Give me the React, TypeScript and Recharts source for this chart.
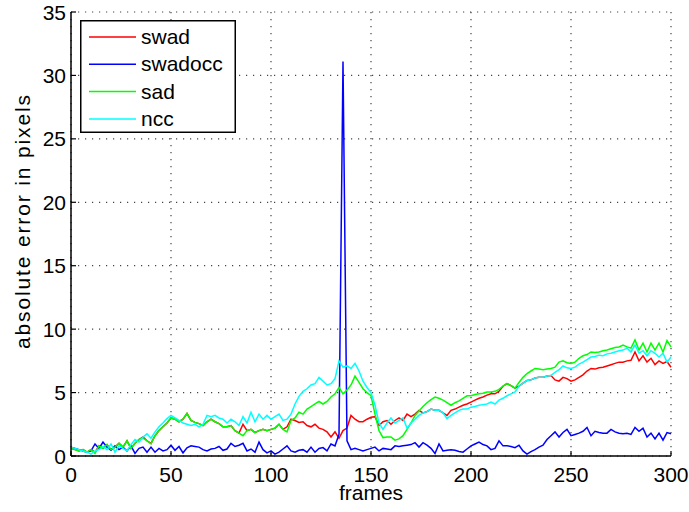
import React from 'react';
import { LineChart, Line, XAxis, YAxis, CartesianGrid, Legend } from 'recharts';

// frame index, sampled every 2 frames
const frames: number[] = Array.from({ length: 151 }, (_, i) => i * 2);

const swad = [
  0.6, 0.5, 0.4, 0.5, 0.3, 0.5, 0.3, 0.8, 0.6, 0.9, 0.5, 0.7, 1.0, 0.7, 1.2, 0.6, 1.0, 1.3, 1.5, 1.2, 1.0, 1.6, 2.0, 2.3, 2.6, 3.0,
  2.9, 2.7, 2.9, 3.35, 2.8, 2.65, 2.55, 2.4, 2.7, 2.9, 2.7, 2.55, 2.3, 2.3, 2.4, 2.0, 1.8, 2.5, 2.0, 2.1, 1.85, 2.0, 2.1, 2.0, 2.1,
  2.2, 2.5, 2.1, 2.3, 2.9, 2.8, 2.65, 2.7, 2.4, 2.3, 2.5, 2.2, 2.1, 1.9, 1.5, 1.9, 1.4, 2.0, 2.2, 3.2, 2.9, 2.7, 2.7, 2.9, 3.05,
  3.1, 2.4, 2.7, 2.8, 2.5, 2.8, 3.0, 2.8, 3.3, 3.1, 3.3, 3.6, 3.4, 3.5, 3.7, 3.6, 3.6, 3.4, 3.2, 3.6, 3.7, 3.85, 4.0, 4.1, 4.25,
  4.4, 4.55, 4.65, 4.8, 4.9, 4.9, 5.1, 5.5, 5.7, 5.55, 5.35, 5.5, 5.75, 5.95, 6.0, 6.15, 6.2, 6.2, 6.3, 6.35, 6.0, 5.9, 6.2, 6.1, 5.9,
  6.0, 6.2, 6.4, 6.7, 6.9, 6.85, 6.95, 7.0, 7.1, 7.2, 7.3, 7.4, 7.4, 7.5, 7.55, 8.2, 7.5, 7.9, 7.4, 7.7, 7.2, 7.5, 7.3, 7.45, 7.0,
];

const swadocc = [
  0.7, 0.6, 0.5, 0.4, 0.3, 0.4, 0.95, 0.6, 1.1, 0.7, 0.45, 0.8, 0.5, 0.7, 0.4, 0.8, 0.2, 0.6, 0.7, 0.3, 0.7, 0.3, 0.6, 0.4, 0.5, 0.85,
  0.45, 0.75, 0.25, 0.65, 0.8, 0.75, 0.7, 0.5, 0.4, 0.55, 0.6, 0.75, 0.45, 0.55, 1.0, 0.75, 0.85, 1.0, 0.4, 0.55, 0.3, 1.1, 0.5, 0.25, 0.4,
  0.15, 0.3, 0.55, 0.8, 0.4, 0.3, 0.45, 0.5, 0.3, 0.7, 0.3, 0.6, 0.66, 0.4, 0.95, 0.8, 1.7, 31.1, 1.2, 0.5, 0.6, 0.5, 0.4, 0.5, 0.6,
  0.7, 0.4, 0.6, 0.55, 0.5, 0.8, 0.75, 0.8, 0.85, 0.9, 1.05, 0.7, 1.05, 0.85, 0.6, 0.2, 0.95, 0.4, 0.45, 0.5, 0.45, 0.35, 0.3, 0.55, 0.8,
  0.95, 1.1, 0.9, 0.8, 0.5, 0.6, 1.2, 0.8, 0.8, 0.75, 0.65, 0.85, 0.4, 0.15, 0.35, 0.5, 0.7, 0.85, 1.3, 1.6, 1.9, 1.5, 1.85, 2.1, 1.6,
  1.7, 1.8, 1.95, 2.25, 1.6, 1.95, 1.85, 1.8, 1.8, 2.1, 1.9, 1.8, 1.75, 1.8, 1.7, 2.25, 1.95, 2.2, 1.5, 1.8, 1.35, 1.8, 1.25, 1.85, 1.75,
];

const sad = [
  0.6, 0.5, 0.4, 0.5, 0.3, 0.5, 0.2, 0.8, 0.6, 0.9, 0.5, 0.7, 1.0, 0.7, 1.2, 0.6, 1.0, 1.3, 1.4, 1.2, 0.95, 1.6, 2.0, 2.3, 2.6, 3.0,
  2.9, 2.7, 2.9, 3.35, 2.8, 2.65, 2.55, 2.4, 2.7, 2.9, 2.7, 2.55, 2.3, 2.3, 2.4, 2.0, 1.8, 1.6, 2.0, 2.1, 1.85, 2.0, 2.1, 2.0, 2.1,
  2.2, 2.5, 2.1, 1.9, 2.8, 3.0, 3.45, 3.3, 3.7, 3.9, 4.1, 4.3, 4.1, 4.3, 4.65, 4.9, 5.4, 4.9, 5.2, 5.6, 6.3, 5.8, 5.3, 5.0, 4.75,
  3.3, 2.0, 1.45, 1.5, 1.5, 1.25, 1.35, 1.6, 2.1, 2.6, 3.2, 3.55, 3.9, 4.2, 4.45, 4.65, 4.55, 4.4, 4.2, 4.0, 4.2, 4.35, 4.55, 4.75, 4.75,
  4.85, 4.9, 4.95, 5.05, 5.05, 5.1, 5.25, 5.5, 5.7, 5.55, 5.35, 5.8, 6.2, 6.5, 6.7, 6.9, 6.85, 6.8, 6.85, 6.9, 7.0, 7.4, 7.5, 7.35, 7.3,
  7.4, 7.7, 7.9, 8.0, 8.2, 8.15, 8.2, 8.3, 8.35, 8.45, 8.55, 8.6, 8.75, 8.6, 8.5, 9.15, 8.35, 8.9, 8.2, 8.9, 8.35, 8.9, 8.2, 9.1, 8.6,
];

const ncc = [
  0.7, 0.6, 0.5, 0.4, 0.3, 0.15, 0.4, 0.5, 0.75, 0.5, 0.95, 0.3, 0.8, 0.6, 0.4, 0.9, 1.3, 1.1, 1.5, 1.75, 1.4, 1.9, 2.3, 2.6, 2.95, 3.2,
  3.0, 2.8, 2.6, 2.5, 2.4, 2.5, 2.3, 2.5, 3.2, 3.1, 3.2, 3.0, 2.9, 2.6, 2.9, 2.7, 2.4, 3.1, 2.6, 3.45, 2.7, 3.3, 2.9, 3.2, 2.9,
  3.1, 3.3, 2.8, 2.9, 3.3, 4.1, 4.7, 5.1, 5.3, 5.6, 5.7, 6.2, 5.9, 5.6, 5.7, 6.1, 7.5, 7.0, 7.1, 6.9, 7.3, 6.7, 5.9, 5.4, 5.0,
  4.0, 2.6, 2.1, 2.6, 3.0, 2.6, 2.8, 3.0, 2.2, 2.6, 2.9, 3.2, 3.4, 3.5, 3.7, 3.6, 3.6, 3.4, 2.95, 3.2, 3.4, 3.6, 3.7, 3.7, 3.85,
  3.9, 4.0, 4.05, 4.1, 4.25, 4.1, 4.4, 4.55, 4.75, 4.9, 5.05, 5.5, 5.75, 5.95, 6.0, 6.15, 6.2, 6.2, 6.3, 6.35, 6.6, 6.8, 7.1, 6.95, 6.9,
  7.0, 7.25, 7.4, 7.6, 7.8, 7.85, 7.95, 7.9, 8.05, 8.1, 8.2, 8.3, 8.35, 8.5, 8.2, 8.75, 8.1, 8.3, 7.9, 8.3, 8.1, 7.8, 8.1, 7.4, 7.8,
];

const seriesNames = ['swad', 'swadocc', 'sad', 'ncc'];
const xTicks = [0, 50, 100, 150, 200, 250, 300];
const yTicks = [0, 5, 10, 15, 20, 25, 30, 35];

const FONT = '"Liberation Sans", Arial, Helvetica, sans-serif';
const FONT_SIZE = 21;
const TICK_LEN = 5;

const data = frames.map((frame, i) => ({
  frame,
  swad: swad[i],
  swadocc: swadocc[i],
  sad: sad[i],
  ncc: ncc[i],
}));

// matlab-style ticks: short marks pointing into the plot area
const XTick = ({ x, y, payload }: any) => (
  <g>
    <line x1={x} y1={y} x2={x} y2={y - TICK_LEN} stroke="#000" strokeWidth={1.2} />
    <text x={x} y={y + 26} textAnchor="middle" fontFamily={FONT} fontSize={FONT_SIZE} fill="#000">
      {payload.value}
    </text>
  </g>
);

const YTick = ({ x, y, payload }: any) => (
  <g>
    <line x1={x} y1={y} x2={x + TICK_LEN} y2={y} stroke="#000" strokeWidth={1.2} />
    <text x={x - 5} y={y + 7.5} textAnchor="end" fontFamily={FONT} fontSize={FONT_SIZE} fill="#000">
      {payload.value}
    </text>
  </g>
);

const LegendBox = ({ payload }: any) => {
  const entries = [...(payload || [])].sort(
    (a: any, b: any) => seriesNames.indexOf(a.value) - seriesNames.indexOf(b.value)
  );
  return (
    <svg width={156} height={113} style={{ display: 'block' }}>
      <rect x={0.75} y={0.75} width={154.5} height={111.5} fill="#fff" stroke="#000" strokeWidth={1.5} />
      {entries.map((entry: any, i: number) => {
        const cy = 17 + i * 27.3;
        return (
          <g key={entry.value}>
            <line x1={9} y1={cy} x2={56} y2={cy} stroke={entry.color} strokeWidth={1.5} />
            <text x={61} y={cy + 7} fontFamily={FONT} fontSize={FONT_SIZE} fill="#000">
              {entry.value}
            </text>
          </g>
        );
      })}
    </svg>
  );
};

export default function App() {
  return (
    <div style={{ position: 'absolute', left: 0, top: 0, background: '#fff' }}>
      <LineChart width={689} height={512} data={data} margin={{ top: 12, right: 18, bottom: 10, left: 0 }}>
        <CartesianGrid stroke="#444" strokeWidth={1.2} strokeDasharray="1.2 5.8" />
        <XAxis
          dataKey="frame"
          type="number"
          domain={[0, 300]}
          ticks={xTicks}
          height={46}
          tickSize={0}
          tickMargin={0}
          tickLine={false}
          tick={<XTick />}
          axisLine={{ stroke: '#000', strokeWidth: 1.5 }}
          label={({ viewBox }: any) => (
            <text
              x={viewBox.x + viewBox.width / 2}
              y={viewBox.y + 44}
              textAnchor="middle"
              fontFamily={FONT}
              fontSize={FONT_SIZE}
              fill="#000"
            >
              frames
            </text>
          )}
        />
        <YAxis
          type="number"
          domain={[0, 35]}
          ticks={yTicks}
          width={71}
          tickSize={0}
          tickMargin={0}
          tickLine={false}
          tick={<YTick />}
          axisLine={{ stroke: '#000', strokeWidth: 1.5 }}
          label={({ viewBox }: any) => {
            const cx = viewBox.x + 22;
            const cy = viewBox.y + viewBox.height / 2 - 12;
            return (
              <text
                x={cx}
                y={cy}
                transform={`rotate(-90, ${cx}, ${cy})`}
                textAnchor="middle"
                dominantBaseline="central"
                fontFamily={FONT}
                fontSize={FONT_SIZE}
                textLength={254}
                lengthAdjust="spacing"
                fill="#000"
              >
                absolute error in pixels
              </text>
            );
          }}
        />
        <Legend
          layout="vertical"
          align="center"
          verticalAlign="middle"
          content={<LegendBox />}
          wrapperStyle={{ left: 80, top: 20, width: 156, height: 113 }}
        />
        <Line type="linear" dataKey="swad" name="swad" stroke="#ff0000" strokeWidth={1.5} dot={false} isAnimationActive={false} />
        <Line type="linear" dataKey="swadocc" name="swadocc" stroke="#0000ff" strokeWidth={1.5} dot={false} isAnimationActive={false} />
        <Line type="linear" dataKey="sad" name="sad" stroke="#00ff00" strokeWidth={1.5} dot={false} isAnimationActive={false} />
        <Line type="linear" dataKey="ncc" name="ncc" stroke="#00ffff" strokeWidth={1.5} dot={false} isAnimationActive={false} />
      </LineChart>
    </div>
  );
}
